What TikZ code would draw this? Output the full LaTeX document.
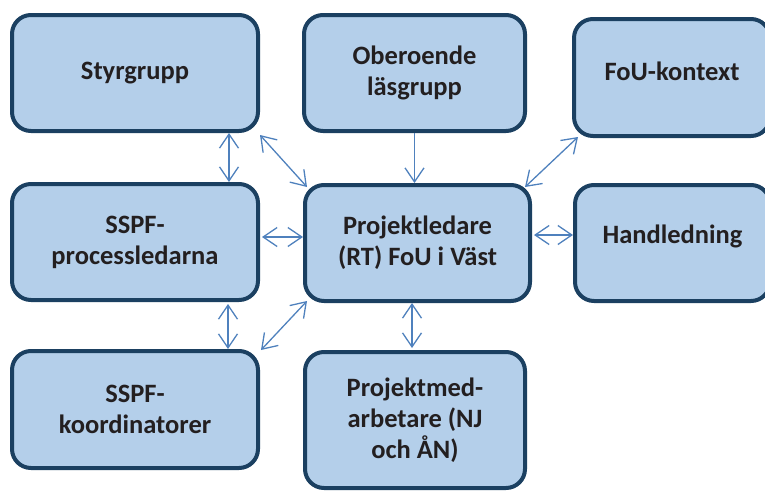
\documentclass[tikz,border=0pt]{standalone}
\usepackage{fontspec}
\setmainfont{Carlito}
\usetikzlibrary{arrows.meta}
\definecolor{boxfill}{RGB}{180,207,234}
\definecolor{boxline}{RGB}{27,64,97}
\definecolor{arrowblue}{RGB}{79,129,189}
\definecolor{txt}{RGB}{35,31,32}
\tikzset{
  box/.style={draw=boxline, fill=boxfill, line width=4pt, rounded corners=19pt,
    align=center, text=txt, font=\fontsize{26.5}{31}\selectfont\bfseries,
    inner sep=0pt},
  biarrow/.style={draw=arrowblue, line width=1.3pt,
    {Straight Barb[length=14pt,width=19pt]}-{Straight Barb[length=14pt,width=19pt]}},
  oneway/.style={draw=arrowblue, line width=1.3pt,
    -{Straight Barb[length=14pt,width=19pt]}}
}
\begin{document}
\begin{tikzpicture}[x=1pt,y=-1pt]
\useasboundingbox (0,0) rectangle (765,490);
\node[box, minimum width=246pt, minimum height=116pt] (styr) at (135,73) {Styrgrupp};
\node[box, minimum width=221pt, minimum height=116pt] (ober) at (414.5,73) {Oberoende\\läsgrupp};
\node[box, minimum width=196pt, minimum height=117pt, text depth=12pt] (fou) at (672,77.5) {FoU-kontext};
\node[box, minimum width=246pt, minimum height=116pt] (proc) at (135,242) {SSPF-\\processledarna};
\node[box, minimum width=225pt, minimum height=116pt] (proj) at (417.5,243) {Projektledare\\(RT) FoU i Väst};
\node[box, minimum width=195pt, minimum height=116pt, text depth=17pt] (hand) at (672.5,243) {Handledning};
\node[box, minimum width=246pt, minimum height=117pt] (koord) at (135,409.5) {SSPF-\\koordinatorer};
\node[box, minimum width=220pt, minimum height=136pt] (med) at (415,420) {Projektmed-\\arbetare (NJ\\och ÅN)};

\draw[biarrow] ([xshift=94pt]styr.south) -- ([xshift=94pt]proc.north);
\draw[biarrow] ([yshift=-2pt]styr.south east) -- ([xshift=4pt,yshift=-4pt]proj.north west);
\draw[oneway] (ober.south) -- (ober.south |- proj.north);
\draw[biarrow] ([xshift=6pt,yshift=1pt]fou.south west) -- ([xshift=-7pt,yshift=-4pt]proj.north east);
\draw[biarrow] ([xshift=2pt,yshift=5pt]proc.east) -- ([yshift=6pt]proj.west);
\draw[biarrow] ([xshift=2pt,yshift=8pt]proj.east) -- ([yshift=8pt]hand.west);
\draw[biarrow] ([xshift=93pt,yshift=-2pt]proc.south) -- ([xshift=93pt]koord.north);
\draw[biarrow] ([xshift=4pt,yshift=2pt]proj.south west) -- ([xshift=1pt,yshift=-1pt]koord.north east);
\draw[biarrow] ([xshift=-5.5pt]proj.south) -- ([xshift=-3pt,yshift=2pt]med.north);
\end{tikzpicture}
\end{document}
